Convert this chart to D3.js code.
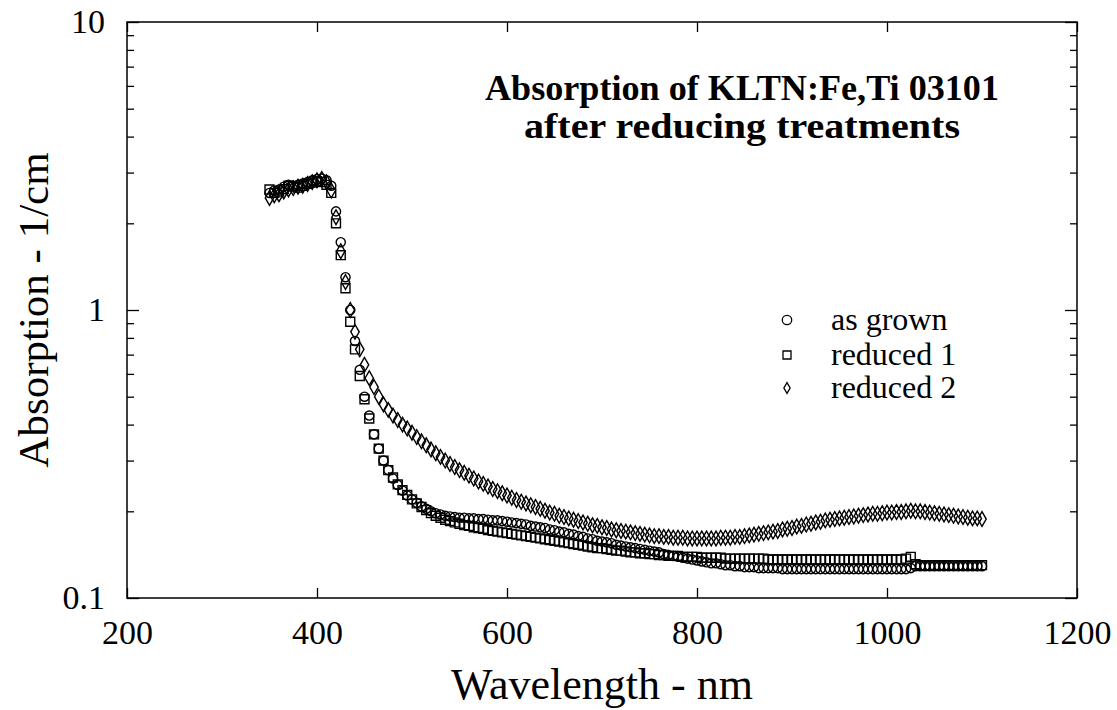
<!DOCTYPE html>
<html><head><meta charset="utf-8">
<script src="https://cdn.jsdelivr.net/npm/d3@7"></script>
<style>
html,body{margin:0;padding:0;background:#fff;}
svg text{font-family:"Liberation Serif","Times New Roman",serif !important;fill:#000;}
</style></head>
<body><svg id="chart" width="1117" height="710"></svg>
<script>
// ---- data ----
const wavelengths = [
 350,355,360,365,370,375,380,385,390,395, 400,405,410,415,420,425,430,435,440,445,
 450,455,460,465,470,475,480,485,490,495, 500,505,510,515,520,525,530,535,540,545,
 550,555,560,565,570,575,580,585,590,595, 600,605,610,615,620,625,630,635,640,645,
 650,655,660,665,670,675,680,685,690,695, 700,705,710,715,720,725,730,735,740,745,
 750,755,760,765,770,775,780,785,790,795, 800,805,810,815,820,825,830,835,840,845,
 850,855,860,865,870,875,880,885,890,895, 900,905,910,915,920,925,930,935,940,945,
 950,955,960,965,970,975,980,985,990,995, 1000,1005,1010,1015,1020,1025,1030,1035,1040,1045,
 1050,1055,1060,1065,1070,1075,1080,1085,1090,1095, 1100];
const asGrown = [
 2.55,2.6,2.62,2.68,2.72,2.7,2.72,2.75,2.78,2.82, 2.85,2.86,2.82,2.7,2.2,1.72,1.3,1.0,0.78,0.62,
 0.5,0.43,0.37,0.33,0.3,0.278,0.26,0.247,0.236,0.227, 0.22,0.214,0.208,0.204,0.2,0.197,0.195,0.193,0.192,0.191,
 0.19,0.19,0.189,0.189,0.188,0.188,0.187,0.186,0.186,0.185, 0.184,0.183,0.182,0.181,0.18,0.178,0.177,0.176,0.175,0.173,
 0.172,0.17,0.169,0.167,0.166,0.164,0.163,0.161,0.16,0.158, 0.157,0.156,0.155,0.153,0.152,0.151,0.15,0.149,0.148,0.147,
 0.146,0.145,0.144,0.142,0.141,0.14,0.139,0.138,0.137,0.136, 0.135,0.134,0.133,0.132,0.132,0.131,0.13,0.13,0.129,0.129,
 0.128,0.128,0.128,0.127,0.127,0.127,0.127,0.127,0.126,0.126, 0.126,0.126,0.126,0.126,0.126,0.126,0.126,0.126,0.126,0.126,
 0.126,0.126,0.126,0.126,0.126,0.126,0.126,0.126,0.126,0.126, 0.126,0.126,0.126,0.126,0.126,0.127,0.129,0.129,0.129,0.129,
 0.129,0.129,0.129,0.129,0.129,0.129,0.129,0.129,0.129,0.129, 0.129];
const reduced1 = [
 2.62,2.55,2.58,2.63,2.7,2.68,2.66,2.7,2.74,2.77, 2.8,2.78,2.72,2.55,2.0,1.55,1.19,0.91,0.73,0.59,
 0.49,0.42,0.37,0.33,0.3,0.278,0.262,0.248,0.237,0.228, 0.22,0.213,0.207,0.202,0.197,0.193,0.19,0.187,0.185,0.183,
 0.181,0.179,0.178,0.176,0.175,0.174,0.172,0.171,0.17,0.169, 0.168,0.167,0.166,0.165,0.164,0.163,0.162,0.161,0.16,0.159,
 0.158,0.157,0.156,0.155,0.154,0.153,0.152,0.151,0.15,0.149, 0.149,0.148,0.147,0.146,0.146,0.145,0.144,0.144,0.143,0.143,
 0.142,0.142,0.141,0.141,0.14,0.14,0.14,0.139,0.139,0.139, 0.139,0.138,0.138,0.138,0.138,0.138,0.137,0.137,0.137,0.137,
 0.137,0.137,0.137,0.137,0.137,0.136,0.136,0.136,0.136,0.136, 0.136,0.136,0.136,0.136,0.136,0.136,0.136,0.136,0.136,0.136,
 0.136,0.136,0.136,0.136,0.136,0.136,0.136,0.136,0.136,0.136, 0.136,0.136,0.136,0.136,0.137,0.139,0.131,0.13,0.13,0.13,
 0.13,0.13,0.13,0.13,0.13,0.13,0.13,0.13,0.13,0.13, 0.13];
const reduced2 = [
 2.45,2.5,2.52,2.58,2.62,2.65,2.68,2.7,2.74,2.78, 2.82,2.85,2.78,2.6,2.1,1.6,1.25,1.0,0.84,0.73,
 0.645,0.58,0.54,0.5,0.47,0.45,0.43,0.415,0.4,0.388, 0.375,0.362,0.35,0.339,0.328,0.318,0.309,0.3,0.292,0.285,
 0.278,0.272,0.266,0.26,0.254,0.249,0.244,0.239,0.235,0.231, 0.227,0.223,0.219,0.216,0.213,0.21,0.207,0.204,0.201,0.198,
 0.196,0.193,0.191,0.189,0.187,0.185,0.183,0.181,0.179,0.178, 0.176,0.175,0.173,0.172,0.171,0.17,0.169,0.168,0.167,0.166,
 0.165,0.164,0.164,0.163,0.163,0.162,0.162,0.162,0.161,0.161, 0.161,0.161,0.161,0.161,0.161,0.162,0.162,0.162,0.163,0.163,
 0.164,0.165,0.166,0.167,0.168,0.169,0.17,0.171,0.173,0.174, 0.175,0.177,0.178,0.18,0.181,0.183,0.184,0.186,0.187,0.188,
 0.189,0.19,0.191,0.192,0.193,0.194,0.195,0.196,0.196,0.197, 0.198,0.198,0.199,0.199,0.2,0.201,0.2,0.2,0.199,0.198,
 0.197,0.196,0.195,0.194,0.193,0.192,0.191,0.19,0.189,0.189, 0.188];
const seriesNames = ["as grown", "reduced 1", "reduced 2"];
const xTicks = [200, 400, 600, 800, 1000, 1200];
const yMajorTicks = [0.1, 1, 10];
const yTickLabels = ["0.1", "1", "10"];
const titleLines = ["Absorption of KLTN:Fe,Ti 03101", "after reducing treatments"];
const xLabel = "Wavelength - nm";
const yLabel = "Absorption - 1/cm";

// ---- layout ----
const FONT = '"Liberation Serif","Times New Roman",serif';
const L = 127, R = 1077, T = 22, B = 598;
const svg = d3.select("#chart");
const x = d3.scaleLinear().domain([200, 1200]).range([L, R]);
const y = d3.scaleLog().domain([0.1, 10]).range([B, T]);

const minorY = [];
[0.1, 1].forEach(d => { for (let k = 2; k <= 9; k++) minorY.push(+(d * k).toFixed(2)); });

const tickStyle = g => { g.attr("font-family", FONT); g.select(".domain").remove(); g.selectAll("line").attr("stroke", "#000").attr("stroke-width", 1.3); };

// bottom
svg.append("g").attr("transform", `translate(0,${B})`)
  .call(d3.axisBottom(x).tickValues(xTicks).tickSize(-10).tickPadding(22).tickFormat(d3.format("d")))
  .call(tickStyle)
  .call(g => g.selectAll("text").style("font-size", "34px"));
// top
svg.append("g").attr("transform", `translate(0,${T})`)
  .call(d3.axisTop(x).tickValues(xTicks).tickSize(-10).tickFormat(""))
  .call(tickStyle);
// left
svg.append("g").attr("transform", `translate(${L},0)`)
  .call(d3.axisLeft(y).tickValues(yMajorTicks).tickSize(-12).tickPadding(22).tickFormat((d, i) => yTickLabels[i]))
  .call(tickStyle)
  .call(g => g.selectAll("text").style("font-size", "34px"));
svg.append("g").attr("transform", `translate(${L},0)`)
  .call(d3.axisLeft(y).tickValues(minorY).tickSize(-7).tickFormat(""))
  .call(tickStyle);
// right
svg.append("g").attr("transform", `translate(${R},0)`)
  .call(d3.axisRight(y).tickValues(yMajorTicks).tickSize(-12).tickFormat(""))
  .call(tickStyle);
svg.append("g").attr("transform", `translate(${R},0)`)
  .call(d3.axisRight(y).tickValues(minorY).tickSize(-7).tickFormat(""))
  .call(tickStyle);

// frame
svg.append("rect").attr("x", L).attr("y", T).attr("width", R - L).attr("height", B - T)
  .attr("fill", "none").attr("stroke", "#000").attr("stroke-width", 1.5);

// axis labels
svg.append("text").attr("x", 602).attr("y", 699).attr("text-anchor", "middle")
  .style("font-family", FONT).style("font-size", "44px").text(xLabel);
svg.append("text").attr("transform", `translate(48,${(T + B) / 2}) rotate(-90)`).attr("text-anchor", "middle")
  .style("font-family", FONT).style("font-size", "43px").text(yLabel);

// title
const titleLen = [514, 436];
titleLines.forEach((t, i) => {
  svg.append("text").attr("x", 742).attr("y", 100 + i * 38).attr("text-anchor", "middle")
    .attr("textLength", titleLen[i]).attr("lengthAdjust", "spacingAndGlyphs")
    .style("font-family", FONT).style("font-size", "36px").style("font-weight", "bold").text(t);
});

// markers
const sym = [d3.symbolCircle, d3.symbolSquare, d3.symbolDiamond];
const symSize = [66, 80, 62];
const data = [asGrown, reduced1, reduced2];
data.forEach((vals, si) => {
  const pts = wavelengths.map((w, i) => ({ w, v: vals[i] }));
  svg.append("g").selectAll("path").data(pts).join("path")
    .attr("transform", d => `translate(${x(d.w)},${y(d.v)})`)
    .attr("d", d3.symbol().type(sym[si]).size(symSize[si]))
    .attr("fill", "none").attr("stroke", "#000").attr("stroke-width", 1.4);
});

// legend
const legY = [320, 355, 388];
const legSize = [70, 64, 34];
seriesNames.forEach((n, i) => {
  svg.append("path").attr("transform", `translate(787,${legY[i]})`)
    .attr("d", d3.symbol().type(sym[i]).size(legSize[i]))
    .attr("fill", "none").attr("stroke", "#000").attr("stroke-width", 1.3);
  svg.append("text").attr("x", 831).attr("y", legY[i] + 10)
    .style("font-family", FONT).style("font-size", "32px").text(n);
});
</script></body></html>
